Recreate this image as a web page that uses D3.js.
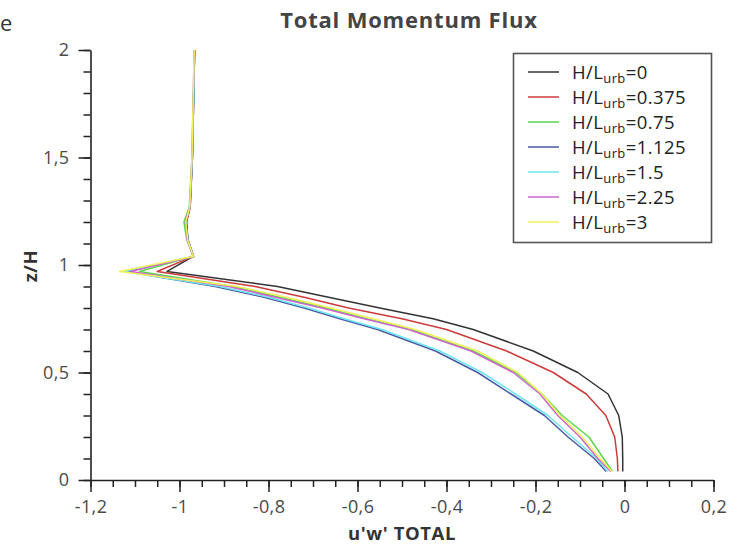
<!DOCTYPE html>
<html>
<head>
<meta charset="utf-8">
<script src="https://cdn.jsdelivr.net/npm/d3@7"></script>
<style>
  html, body { margin: 0; padding: 0; background: #fff; }
  svg { display: block; }
  text { font-family: "Open Sans", "Noto Sans", sans-serif; }
</style>
</head>
<body>
<svg id="chart" width="739" height="545"></svg>
<script>
// Heights (z/H) at which the flux profiles are sampled
const zLevels = [0.04, 0.1, 0.2, 0.3, 0.4, 0.5, 0.6, 0.7, 0.75, 0.8, 0.85, 0.9, 0.97, 1.04, 1.12, 1.2, 1.27, 1.5, 2.0];

// u'w' total momentum flux for each H/Lurb case
const flux0    = [-0.004, -0.004, -0.005, -0.013, -0.037, -0.105, -0.205, -0.34, -0.43, -0.55, -0.665, -0.78, -1.028, -0.969, -0.981, -0.984, -0.976, -0.971, -0.966];
const flux0375 = [-0.015, -0.016, -0.022, -0.042, -0.086, -0.16, -0.265, -0.40, -0.50, -0.62, -0.72, -0.83, -1.05, -0.969, -0.982, -0.985, -0.976, -0.971, -0.966];
const flux075  = [-0.027, -0.047, -0.08, -0.14, -0.185, -0.245, -0.34, -0.48, -0.58, -0.67, -0.775, -0.88, -1.09, -0.969, -0.984, -0.99, -0.978, -0.972, -0.966];
const flux1125 = [-0.041, -0.068, -0.127, -0.18, -0.255, -0.33, -0.425, -0.555, -0.64, -0.72, -0.81, -0.92, -1.12, -0.968, -0.982, -0.986, -0.977, -0.971, -0.966];
const flux15   = [-0.038, -0.062, -0.118, -0.172, -0.245, -0.32, -0.415, -0.545, -0.63, -0.71, -0.80, -0.91, -1.125, -0.969, -0.982, -0.986, -0.977, -0.971, -0.966];
const flux225  = [-0.031, -0.06, -0.10, -0.15, -0.19, -0.25, -0.345, -0.485, -0.585, -0.68, -0.785, -0.89, -1.11, -0.969, -0.983, -0.987, -0.977, -0.972, -0.967];
const flux3    = [-0.028, -0.055, -0.095, -0.145, -0.185, -0.24, -0.33, -0.47, -0.565, -0.66, -0.76, -0.87, -1.135, -0.969, -0.982, -0.986, -0.977, -0.972, -0.967];

const seriesNames  = ["0", "0.375", "0.75", "1.125", "1.5", "2.25", "3"];
const seriesValues = [flux0, flux0375, flux075, flux1125, flux15, flux225, flux3];
const seriesColors = ["#333333", "#cc3b3b", "#5ad94a", "#4a5aa8", "#6ee6ee", "#cc66cc", "#f2f05a"];

const xTickValues = [-1.2, -1, -0.8, -0.6, -0.4, -0.2, 0, 0.2];
const yTickValues = [0, 0.5, 1, 1.5, 2];

const svg = d3.select("#chart");

const x = d3.scaleLinear().domain([-1.2, 0.2]).range([90.5, 713.5]);
const y = d3.scaleLinear().domain([0, 2]).range([480, 50]);

// Comma as decimal separator, plain hyphen for negatives
const locale = d3.formatLocale({ decimal: ",", thousands: ".", grouping: [3], currency: ["", ""], minus: "-" });
const fmt = locale.format("~g");

const axisColor = "#222";
const labelColor = "#4a4a4a";

// Minor ticks
const xMinor = d3.range(-1.2, 0.2001, 0.05).map(v => +v.toFixed(2));
const yMinor = d3.range(0, 2.0001, 0.1).map(v => +v.toFixed(2));

svg.append("g")
  .attr("transform", `translate(0,${y(0)})`)
  .call(d3.axisBottom(x).tickValues(xMinor).tickSize(7).tickFormat(""))
  .call(g => g.select(".domain").remove())
  .call(g => g.selectAll("line").attr("stroke", axisColor).attr("stroke-width", 1.5));

svg.append("g")
  .attr("transform", `translate(${x(-1.2)},0)`)
  .call(d3.axisLeft(y).tickValues(yMinor).tickSize(7).tickFormat(""))
  .call(g => g.select(".domain").remove())
  .call(g => g.selectAll("line").attr("stroke", axisColor).attr("stroke-width", 1.5));

// Major ticks with labels
svg.append("g")
  .attr("transform", `translate(0,${y(0)})`)
  .call(d3.axisBottom(x).tickValues(xTickValues).tickSize(12).tickSizeOuter(0).tickPadding(8).tickFormat(fmt))
  .call(g => g.select(".domain").attr("stroke", axisColor).attr("stroke-width", 1.6))
  .call(g => g.selectAll("line").attr("stroke", axisColor).attr("stroke-width", 1.5))
  .call(g => g.selectAll("text").attr("fill", labelColor).attr("font-size", 18)
    .attr("letter-spacing", 0.4).attr("font-family", "'Open Sans', sans-serif"));

svg.append("g")
  .attr("transform", `translate(${x(-1.2)},0)`)
  .call(d3.axisLeft(y).tickValues(yTickValues).tickSize(12).tickSizeOuter(0).tickPadding(9).tickFormat(fmt))
  .call(g => g.select(".domain").attr("stroke", axisColor).attr("stroke-width", 1.6))
  .call(g => g.selectAll("line").attr("stroke", axisColor).attr("stroke-width", 1.5))
  .call(g => g.selectAll("text").attr("fill", labelColor).attr("font-size", 18)
    .attr("letter-spacing", 0.4).attr("font-family", "'Open Sans', sans-serif"));

// Profiles
const line = d3.line()
  .x(d => x(d[0]))
  .y(d => y(d[1]));

seriesValues.forEach((vals, i) => {
  svg.append("path")
    .datum(vals.map((v, k) => [v, zLevels[k]]))
    .attr("fill", "none")
    .attr("stroke", seriesColors[i])
    .attr("stroke-width", 1.5)
    .attr("stroke-linejoin", "round")
    .attr("d", line);
});

// Titles
svg.append("text")
  .attr("x", 409).attr("y", 28)
  .attr("text-anchor", "middle")
  .attr("font-size", 22).attr("font-weight", "bold")
  .attr("letter-spacing", 0.8)
  .attr("fill", "#444")
  .text("Total Momentum Flux");

svg.append("text")
  .attr("x", 402).attr("y", 540)
  .attr("text-anchor", "middle")
  .attr("font-size", 18.5).attr("font-weight", "bold")
  .attr("letter-spacing", 0.6)
  .attr("fill", "#333")
  .text("u'w' TOTAL");

svg.append("text")
  .attr("transform", "translate(37,266) rotate(-90)")
  .attr("text-anchor", "middle")
  .attr("font-size", 18.5).attr("font-weight", "bold")
  .attr("letter-spacing", 0.6)
  .attr("fill", "#333")
  .text("z/H");

svg.append("text")
  .attr("x", 0).attr("y", 31)
  .attr("font-size", 22)
  .attr("fill", "#333")
  .text("e");

// Legend
const legend = svg.append("g");
legend.append("rect")
  .attr("x", 513.5).attr("y", 53.5)
  .attr("width", 198).attr("height", 189)
  .attr("fill", "#fff")
  .attr("stroke", "#555").attr("stroke-width", 1.6);

seriesNames.forEach((name, i) => {
  const yy = 72 + i * 25;
  legend.append("line")
    .attr("x1", 528).attr("x2", 559)
    .attr("y1", yy).attr("y2", yy)
    .attr("stroke", seriesColors[i]).attr("stroke-width", 1.5);
  const t = legend.append("text")
    .attr("x", 572).attr("y", yy + 6.5)
    .attr("font-size", 18.5)
    .attr("letter-spacing", 0.4)
    .attr("fill", "#222");
  t.append("tspan").text("H/L");
  t.append("tspan").attr("font-size", 13).attr("dy", 4).text("urb");
  t.append("tspan").attr("dy", -4).text("=" + name);
});
</script>
</body>
</html>
